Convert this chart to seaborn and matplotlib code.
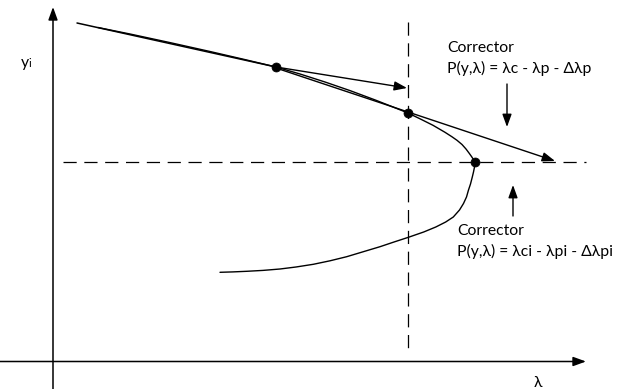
import matplotlib
matplotlib.use("Agg")
import matplotlib.pyplot as plt
import seaborn as sns
import pandas as pd

sns.set_theme(style="white")
plt.rcParams["font.family"] = ["Lato", "DejaVu Sans"]
plt.rcParams["lines.scale_dashes"] = False

# Solution branch (lambda, y) in diagram units, y measured downward
curve_lam = [98, 130, 170, 210, 245, 276, 300, 325, 350, 375, 392, 408,
             420, 433, 445, 452, 457, 462, 466, 469, 471.5, 473.5, 474.7,
             474.8, 474.3, 473.5, 472.3, 470.5, 468.5, 466.5, 463.5, 459.5, 453.3,
             445.7, 435.8, 423.7, 408.4, 394, 380, 363, 346.7, 330, 313.3, 296,
             280, 263, 246.7, 233, 220]
curve_y = [27.5, 34.0, 42.6, 51.5, 59.6, 67, 74.0, 82.0, 90.6, 99.9, 106.6, 113,
           118.8, 125.3, 132.3, 136.8, 140.3, 144.5, 149, 153, 156.5, 159.5, 162,
           165, 168, 172, 177, 184, 190, 197, 203.5, 210, 217,
           222, 227, 232, 237.3, 242, 246.7, 251.8, 256.7, 260.8, 264.3, 267,
           269, 270.4, 271.3, 271.9, 272.3]

# Converged points on the branch
pts_lam = [276, 408, 474.7]
pts_y = [67, 113, 162]

# Predictor steps: (start, end)
tangent_line = [(77, 23), (276, 67)]
predictor_arrows = [((276, 67), (407, 88)), ((276, 68), (555, 161))]

# Corrector hyperplanes
lam_fixed = 407.5
y_fixed = 162

# Corrector direction hints
hint_arrows = [((507, 84), (507, 127)), ((513, 216), (513, 185))]

label_top = ["Corrector", "P(y,λ) = λc - λp - Δλp"]
label_bottom = ["Corrector", "P(y,λ) = λci - λpi - Δλpi"]

W, H = 622, 389
fig = plt.figure(figsize=(W / 100, H / 100), dpi=100)
ax = fig.add_axes([0, 0, 1, 1])
ax.set_xlim(0, W)
ax.set_ylim(H, 0)
ax.axis("off")

ink = "black"
lw = 1.0
head = "-|>,head_length=0.55,head_width=0.2"


def arrow(start, end, width=lw):
    ax.annotate("", xy=end, xytext=start,
                arrowprops=dict(arrowstyle=head, mutation_scale=14, lw=width, color=ink,
                                shrinkA=0, shrinkB=0))


# Coordinate axes with arrowheads
arrow((0, 361.5), (586, 361.5), 1.1)
arrow((53, H), (53, 7), 1.1)

# Dashed corrector constraints
dash = (0, (9.5, 5.5))
ax.plot([lam_fixed, lam_fixed], [22, 355], color=ink, lw=0.9, linestyle=dash)
ax.plot([63, 586], [y_fixed, y_fixed], color=ink, lw=0.9, linestyle=dash)

# Solution curve
df = pd.DataFrame({"lam": curve_lam, "y": curve_y})
sns.lineplot(data=df, x="lam", y="y", sort=False, estimator=None, color=ink, lw=1.0, ax=ax)

# Tangent continuation
ax.plot([p[0] for p in tangent_line], [p[1] for p in tangent_line], color=ink, lw=1.1)

# Predictor arrows
for start, end in predictor_arrows:
    arrow(start, end)

# Corrector hints
for start, end in hint_arrows:
    arrow(start, end)

# Points on the branch
sns.scatterplot(x=pts_lam, y=pts_y, s=42, color=ink, edgecolor=ink, zorder=5, ax=ax)

fs = 11.3
ax.text(447, 52, label_top[0], fontsize=fs, va="baseline", ha="left", color=ink)
ax.text(447, 73, label_top[1], fontsize=fs, va="baseline", ha="left", color=ink)
ax.text(457, 235, label_bottom[0], fontsize=fs, va="baseline", ha="left", color=ink)
ax.text(457, 256, label_bottom[1], fontsize=fs, va="baseline", ha="left", color=ink)

ax.text(21, 67, "y", fontsize=fs, va="baseline", ha="left", color=ink)
ax.text(28.5, 67, "i", fontsize=8, va="baseline", ha="left", color=ink)
ax.text(538, 387, "λ", fontsize=fs, va="baseline", ha="center", color=ink)

fig.savefig("out.png", dpi=100)
